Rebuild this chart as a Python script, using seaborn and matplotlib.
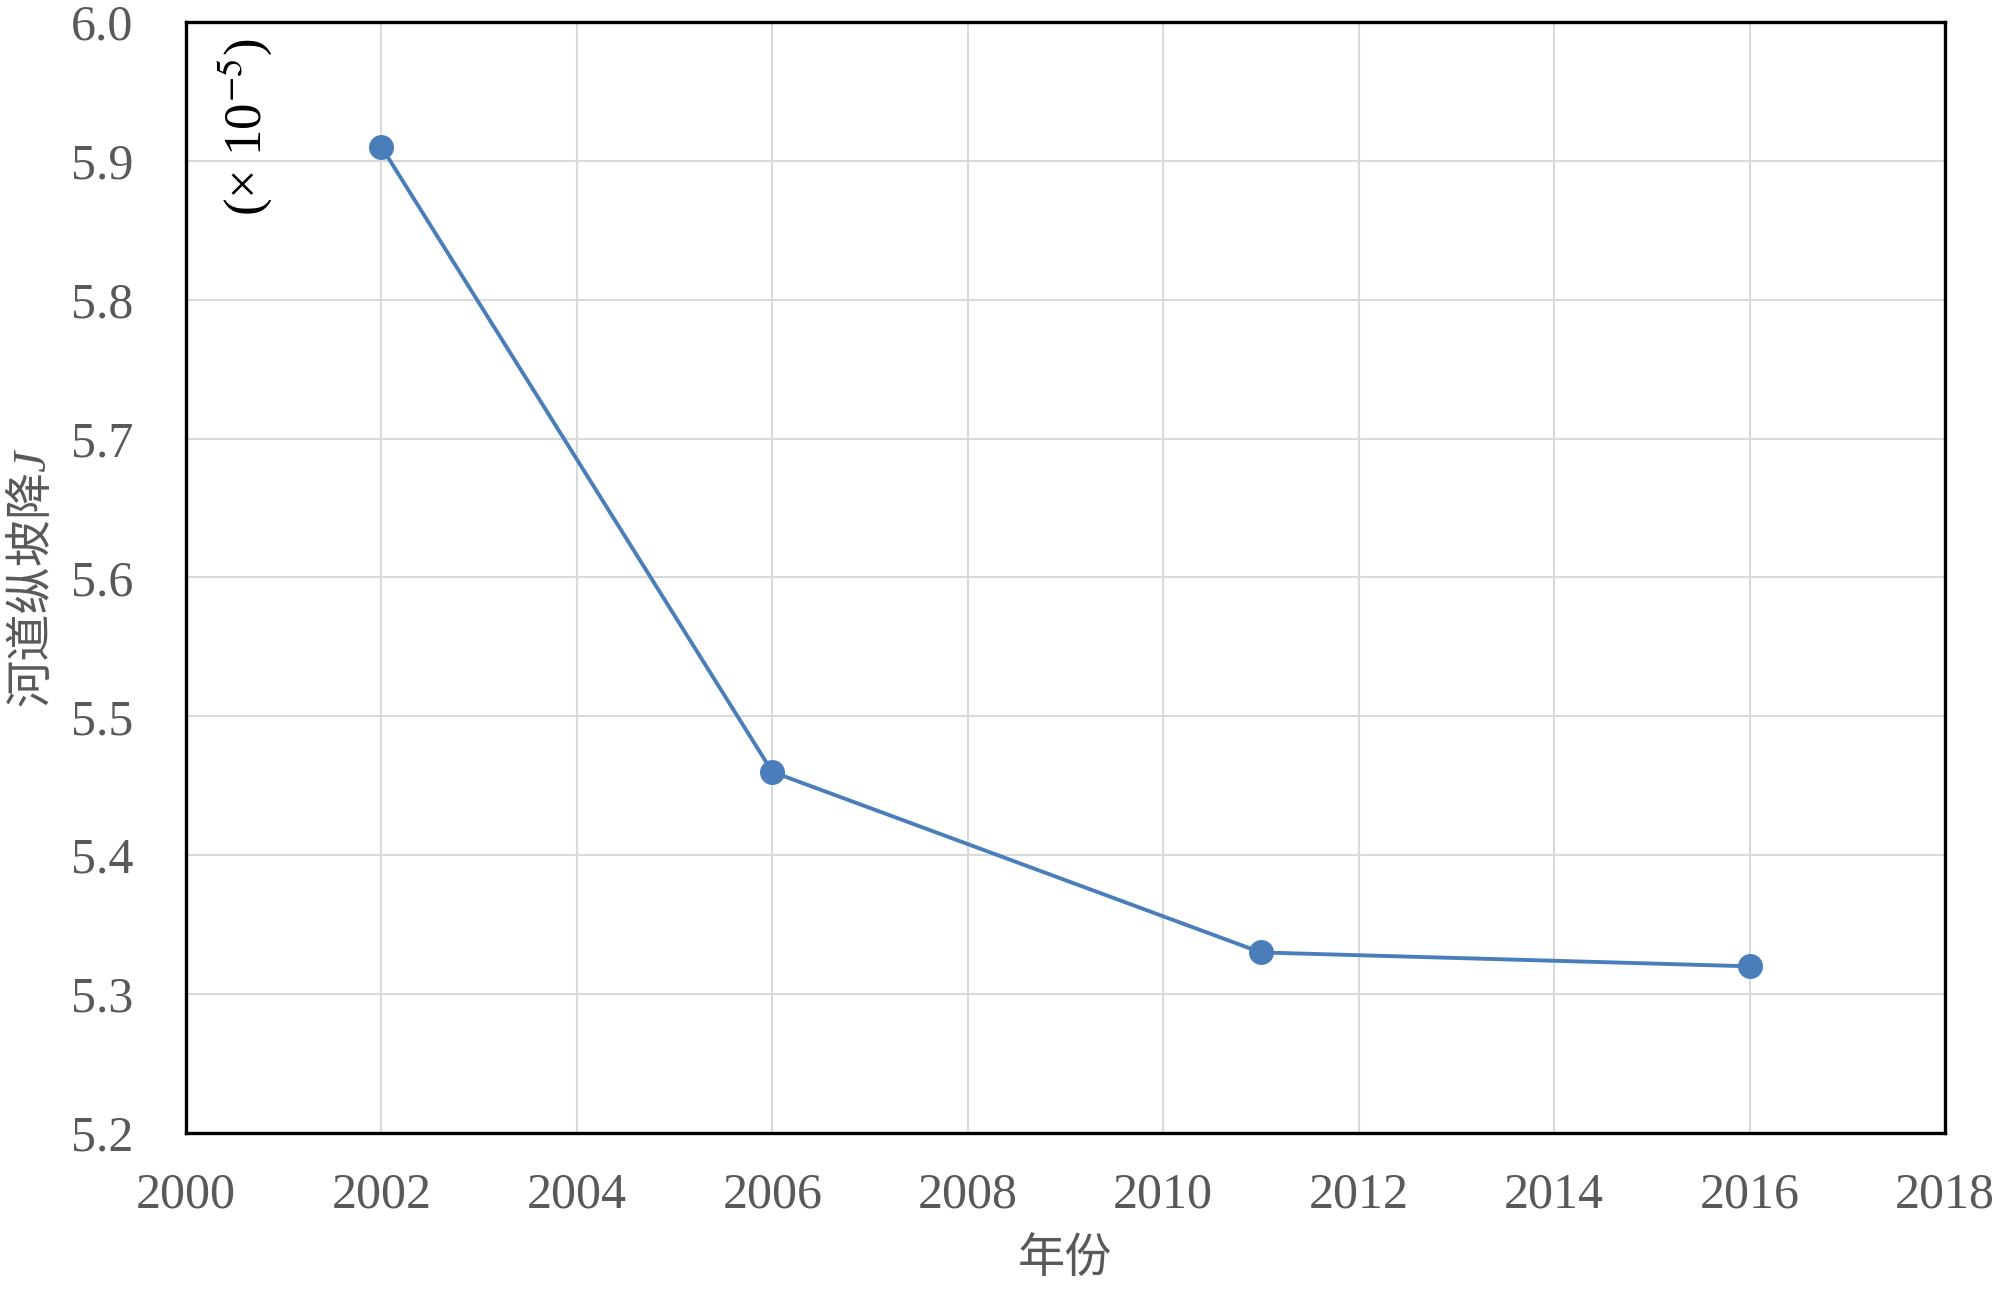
import numpy as np
import pandas as pd
import seaborn as sns
from matplotlib import pyplot as plt

# values
years = [2002, 2006, 2011, 2016]
slope = [5.91, 5.46, 5.33, 5.32]
x_ticks = list(range(2000, 2019, 2))
y_ticks = [5.2, 5.3, 5.4, 5.5, 5.6, 5.7, 5.8, 5.9, 6.0]

sns.set_style("white")
plt.rcParams['font.family'] = ['Liberation Serif', 'Noto Sans CJK SC', 'DejaVu Sans']
plt.rcParams['mathtext.fontset'] = 'stix'

df = pd.DataFrame({"year": years, "J": slope})

fig = plt.figure(figsize=(20, 12.91), dpi=100)
ax = fig.add_axes([0.093, 0.1224, 0.8795, 0.8606])

sns.lineplot(data=df, x="year", y="J", ax=ax, color="#4A7EBB", linewidth=2.8,
             marker="o", markersize=18, markeredgewidth=0, zorder=3)

ax.set_xlim(2000, 2018)
ax.set_ylim(5.2, 6.0)
ax.set_xticks(x_ticks)
ax.set_yticks(y_ticks)
ax.set_yticklabels([f"{v:.1f}" for v in y_ticks])
ax.grid(True, color="#D9D9D9", linewidth=1.5)
ax.set_axisbelow(True)
for s in ax.spines.values():
    s.set_color("black")
    s.set_linewidth(2.4)
    s.set_zorder(4)

ax.tick_params(axis="both", length=0, labelsize=36, labelcolor="#595959")
ax.tick_params(axis="x", pad=28)
ax.tick_params(axis="y", pad=38)

ax.set_xlabel("年份", fontsize=34, color="#595959", labelpad=14)
ax.set_ylabel("河道纵坡降J", fontsize=34, color="#595959", labelpad=12,
              fontstyle="italic")

ax.text(0.016, 0.985, "(× 10$^{-5}$)", transform=ax.transAxes, rotation=90,
        ha="left", va="top", fontsize=38, color="black")

plt.savefig("out.png", dpi=100)
